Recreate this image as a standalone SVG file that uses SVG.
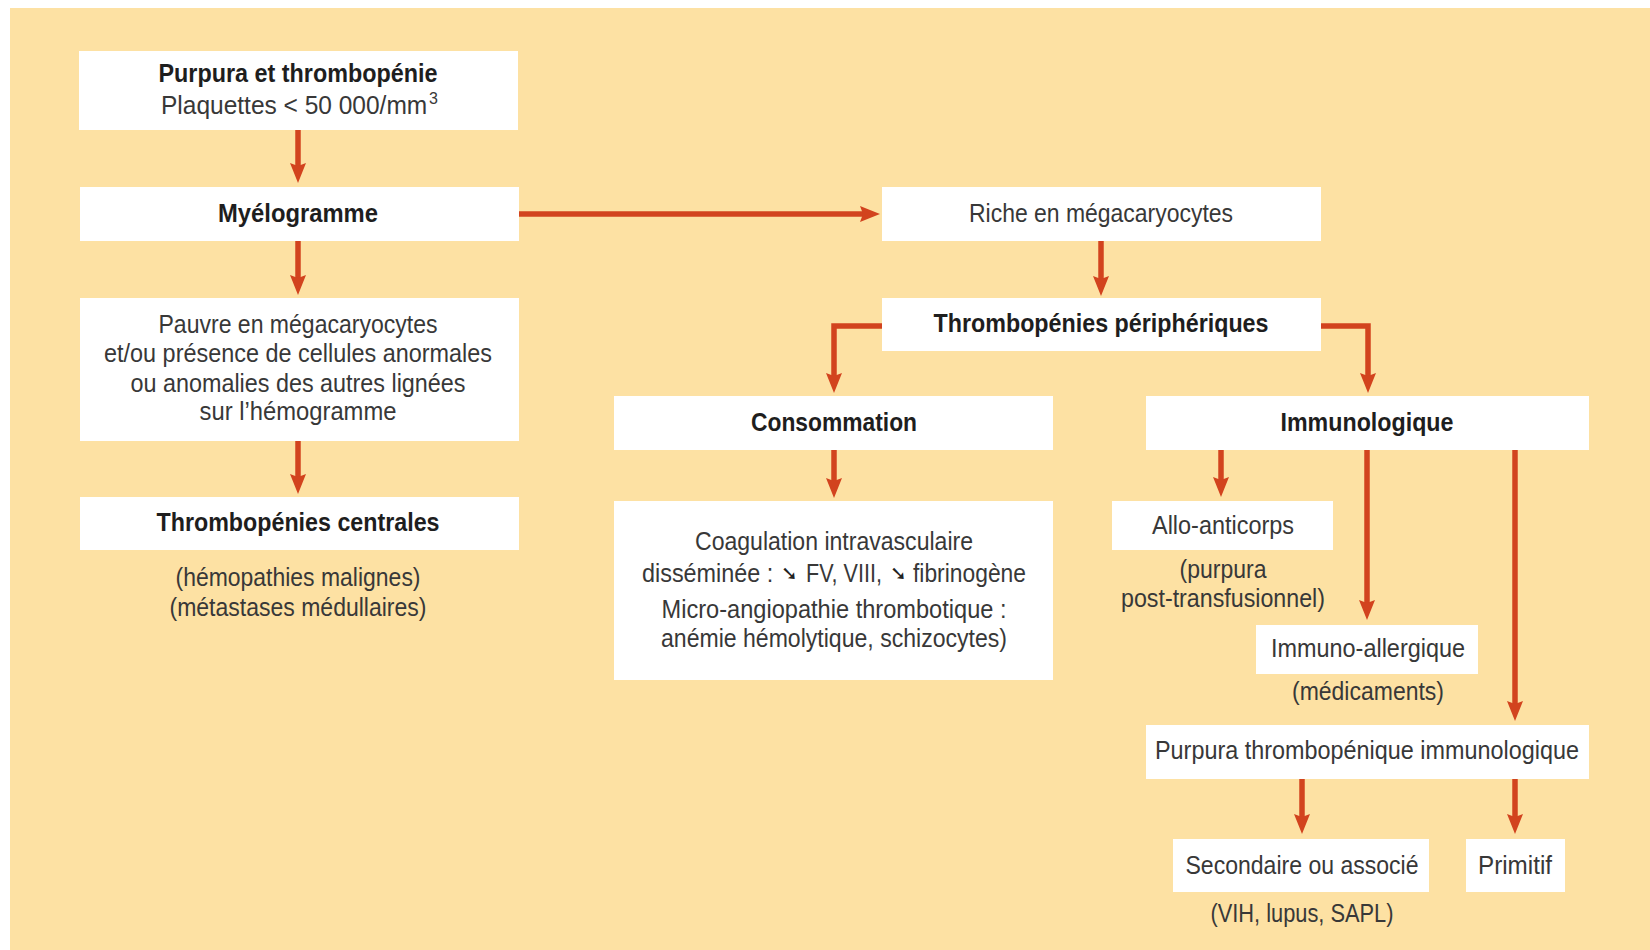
<svg xmlns="http://www.w3.org/2000/svg" width="1650" height="950" viewBox="0 0 1650 950">
<style>
.box{fill:#ffffff}
.t{font-family:"Liberation Sans Narrow","Liberation Sans",Arial,sans-serif;font-size:26px;fill:#383838;text-anchor:middle}
.s{text-anchor:start}
.sup{font-size:16px}
.b{font-weight:bold;fill:#1e1e1e}
.c{stroke:#D2431E;stroke-width:5.5;fill:none}
.ar{font-family:"DejaVu Sans",sans-serif;font-weight:bold;font-size:20px;fill:#222}
</style>
<defs>
<marker id="ah" markerUnits="userSpaceOnUse" viewBox="0 0 20 16" markerWidth="20" markerHeight="16" refX="6" refY="8" orient="auto">
<path d="M0,0 L20,8 L0,16 L3,8 z" fill="#D2431E"/>
</marker>
</defs>
<rect x="0" y="0" width="1650" height="950" fill="#ffffff"/>
<rect x="10" y="8" width="1640" height="942" fill="#FDE1A3"/>

<g id="connectors">
<line class="c" x1="298" y1="130" x2="298" y2="169" marker-end="url(#ah)"/>
<line class="c" x1="298" y1="241" x2="298" y2="281" marker-end="url(#ah)"/>
<line class="c" x1="298" y1="441" x2="298" y2="480" marker-end="url(#ah)"/>
<line class="c" x1="519" y1="214" x2="866" y2="214" marker-end="url(#ah)"/>
<line class="c" x1="1101" y1="241" x2="1101" y2="282" marker-end="url(#ah)"/>
<polyline class="c" points="882,326 834,326 834,379" marker-end="url(#ah)"/>
<polyline class="c" points="1321,326 1368,326 1368,379" marker-end="url(#ah)"/>
<line class="c" x1="834" y1="450" x2="834" y2="484" marker-end="url(#ah)"/>
<line class="c" x1="1221" y1="450" x2="1221" y2="483" marker-end="url(#ah)"/>
<line class="c" x1="1367" y1="450" x2="1367" y2="606" marker-end="url(#ah)"/>
<line class="c" x1="1515" y1="450" x2="1515" y2="707" marker-end="url(#ah)"/>
<line class="c" x1="1302" y1="779" x2="1302" y2="820" marker-end="url(#ah)"/>
<line class="c" x1="1515" y1="779" x2="1515" y2="820" marker-end="url(#ah)"/>
</g>

<g id="n-purpura">
<rect class="box" x="79" y="51" width="439" height="79"/>
<text class="t b" x="298" y="82" textLength="279" lengthAdjust="spacingAndGlyphs">Purpura et thrombopénie</text>
<text class="t s" transform="translate(161,114) scale(0.943,1)" x="0" y="0">Plaquettes &lt; 50 000/mm</text>
<text class="t s sup" x="429" y="104">3</text>
</g>

<g id="n-myelo">
<rect class="box" x="80" y="187" width="439" height="54"/>
<text class="t b" x="298" y="222" textLength="160" lengthAdjust="spacingAndGlyphs">Myélogramme</text>
</g>

<g id="n-pauvre">
<rect class="box" x="80" y="298" width="439" height="143"/>
<text class="t" x="298" y="333" textLength="279" lengthAdjust="spacingAndGlyphs">Pauvre en mégacaryocytes</text>
<text class="t" x="298" y="362" textLength="388" lengthAdjust="spacingAndGlyphs">et/ou présence de cellules anormales</text>
<text class="t" x="298" y="392" textLength="335" lengthAdjust="spacingAndGlyphs">ou anomalies des autres lignées</text>
<text class="t" x="298" y="420" textLength="197" lengthAdjust="spacingAndGlyphs">sur l’hémogramme</text>
</g>

<g id="n-centrales">
<rect class="box" x="80" y="497" width="439" height="53"/>
<text class="t b" x="298" y="531" textLength="283" lengthAdjust="spacingAndGlyphs">Thrombopénies centrales</text>
<text class="t" x="298" y="586" textLength="245" lengthAdjust="spacingAndGlyphs">(hémopathies malignes)</text>
<text class="t" x="298" y="616" textLength="257" lengthAdjust="spacingAndGlyphs">(métastases médullaires)</text>
</g>

<g id="n-riche">
<rect class="box" x="882" y="187" width="439" height="54"/>
<text class="t" x="1101" y="222" textLength="264" lengthAdjust="spacingAndGlyphs">Riche en mégacaryocytes</text>
</g>

<g id="n-periph">
<rect class="box" x="882" y="298" width="439" height="53"/>
<text class="t b" x="1101" y="332" textLength="335" lengthAdjust="spacingAndGlyphs">Thrombopénies périphériques</text>
</g>

<g id="n-conso">
<rect class="box" x="614" y="396" width="439" height="54"/>
<text class="t b" x="834" y="431" textLength="166" lengthAdjust="spacingAndGlyphs">Consommation</text>
</g>

<g id="n-coag">
<rect class="box" x="614" y="501" width="439" height="179"/>
<text class="t" x="834" y="550" textLength="278" lengthAdjust="spacingAndGlyphs">Coagulation intravasculaire</text>
<text class="t s" transform="translate(642,582) scale(0.9,1)" x="0" y="0">disséminée :</text>
<text class="ar" x="781" y="580">➘</text>
<text class="t s" transform="translate(806,582) scale(0.83,1)" x="0" y="0">FV, VIII,</text>
<text class="ar" x="890" y="580">➘</text>
<text class="t s" x="913" y="582" textLength="113" lengthAdjust="spacingAndGlyphs">fibrinogène</text>
<text class="t" x="834" y="618" textLength="345" lengthAdjust="spacingAndGlyphs">Micro-angiopathie thrombotique :</text>
<text class="t" x="834" y="647" textLength="346" lengthAdjust="spacingAndGlyphs">anémie hémolytique, schizocytes)</text>
</g>

<g id="n-immuno">
<rect class="box" x="1146" y="396" width="443" height="54"/>
<text class="t b" x="1367" y="431" textLength="173" lengthAdjust="spacingAndGlyphs">Immunologique</text>
</g>

<g id="n-allo">
<rect class="box" x="1112" y="501" width="221" height="49"/>
<text class="t" x="1223" y="534" textLength="142" lengthAdjust="spacingAndGlyphs">Allo-anticorps</text>
<text class="t" x="1223" y="578" textLength="87" lengthAdjust="spacingAndGlyphs">(purpura</text>
<text class="t" x="1223" y="607" textLength="204" lengthAdjust="spacingAndGlyphs">post-transfusionnel)</text>
</g>

<g id="n-immunoall">
<rect class="box" x="1256" y="625" width="222" height="49"/>
<text class="t" x="1368" y="657" textLength="194" lengthAdjust="spacingAndGlyphs">Immuno-allergique</text>
<text class="t" x="1368" y="700" textLength="152" lengthAdjust="spacingAndGlyphs">(médicaments)</text>
</g>

<g id="n-pti">
<rect class="box" x="1146" y="725" width="443" height="54"/>
<text class="t" x="1367" y="759" textLength="424" lengthAdjust="spacingAndGlyphs">Purpura thrombopénique immunologique</text>
</g>

<g id="n-secondaire">
<rect class="box" x="1173" y="839" width="256" height="53"/>
<text class="t" x="1302" y="874" textLength="233" lengthAdjust="spacingAndGlyphs">Secondaire ou associé</text>
<text class="t" x="1302" y="922" textLength="183" lengthAdjust="spacingAndGlyphs">(VIH, lupus, SAPL)</text>
</g>

<g id="n-primitif">
<rect class="box" x="1466" y="839" width="99" height="53"/>
<text class="t" x="1515" y="874" textLength="74" lengthAdjust="spacingAndGlyphs">Primitif</text>
</g>
</svg>
